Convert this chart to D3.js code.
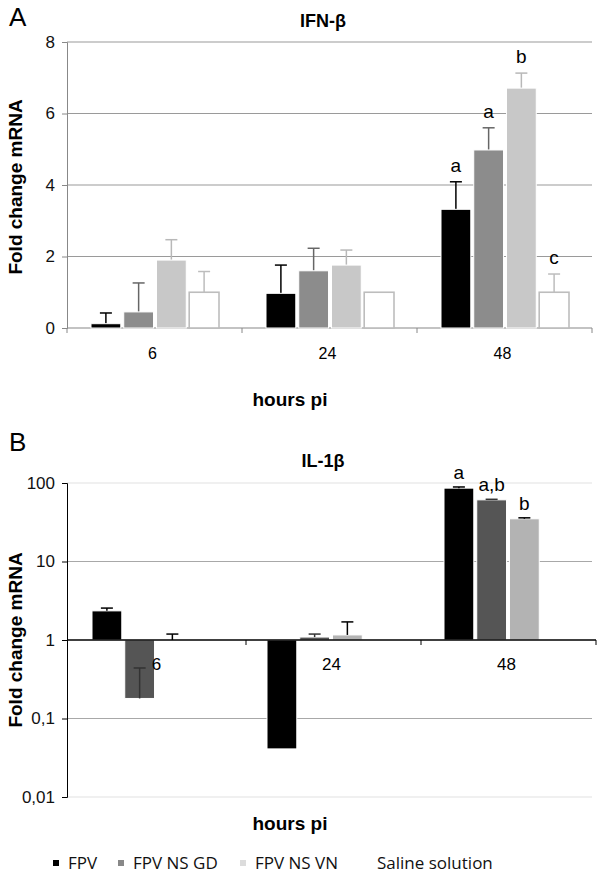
<!DOCTYPE html>
<html><head><meta charset="utf-8">
<script src="https://cdn.jsdelivr.net/npm/d3@7"></script>
<style>body{margin:0;background:#fff}svg{display:block}</style>
</head><body>
<svg id="c" width="600" height="882"></svg>
<script>
const categories = ["6", "24", "48"];
const seriesA = ["FPV", "FPV NS GD", "FPV NS VN", "Saline solution"];
const seriesB = ["FPV", "FPV NS GD", "FPV NS VN"];
// Panel A IFN-β values [6,24,48] per series
const ifnFPV = [0.12, 0.97, 3.32];
const ifnGD = [0.45, 1.6, 4.98];
const ifnVN = [1.9, 1.76, 6.71];
const ifnSal = [1.0, 1.0, 1.0];
// upper error bar ends
const ifnFPVErr = [0.42, 1.76, 4.09];
const ifnGDErr = [1.26, 2.23, 5.6];
const ifnVNErr = [2.47, 2.18, 7.13];
const ifnSalErr = [1.58, 1.0, 1.51];
const ifnLetters = [["", "", "a"], ["", "", "a"], ["", "", "b"], ["", "", "c"]];
// Panel B IL-1β values
const ilFPV = [2.35, 0.041, 86];
const ilGD = [0.18, 1.09, 61];
const ilVN = [1.0, 1.16, 35];
const ilFPVErr = [2.55, 0.041, 89];
const ilGDErr = [0.44, 1.19, 62];
const ilVNErr = [1.19, 1.7, 36];
const ilLetters = [["", "", "a"], ["", "", "a,b"], ["", "", "b"]];
const ticksA = [0, 2, 4, 6, 8];
const ticksB = [0.01, 0.1, 1, 10, 100];
const tickLabelsB = ["0,01", "0,1", "1", "10", "100"];

const svg = d3.select("#c");
const F = "'Liberation Sans', Arial, sans-serif";
const colA = ["#000000", "#8c8c8c", "#c8c8c8", "#ffffff"];
const errColA = ["#000000", "#666666", "#b8b8b8", "#bdbdbd"];
const colB = ["#000000", "#555555", "#b3b3b3"];
const errColB = ["#000000", "#333333", "#000000"];

const x0 = d3.scaleBand().domain(categories).range([67, 592]);
const x1 = d3.scaleBand().domain(seriesA).range([24, 152]).paddingInner(0.09);

// ---------- Panel A ----------
const yA = d3.scaleLinear().domain([0, 8]).range([328, 42]);
const gA = svg.append("g");
gA.selectAll("line.grid").data(ticksA.filter(d => d > 0)).join("line")
  .attr("x1", 67).attr("x2", 592).attr("y1", d => yA(d)).attr("y2", d => yA(d))
  .attr("stroke", "#9a9a9a").attr("stroke-width", 1.2);
const axA = gA.append("g").attr("transform", "translate(67,0)")
  .call(d3.axisLeft(yA).tickValues(ticksA).tickSize(5).tickPadding(7));
axA.select(".domain").attr("stroke", "#888");
axA.selectAll(".tick line").attr("stroke", "#888");
axA.selectAll("text").attr("font-family", F).attr("font-size", 17).attr("fill", "#111");
const xaA = gA.append("g").attr("transform", `translate(0,${yA(0)})`);
xaA.append("line").attr("x1", 67).attr("x2", 592).attr("stroke", "#888").attr("stroke-width", 1.2);
xaA.selectAll("line.t").data([67, ...categories.map(c => x0(c) + x0.bandwidth())]).join("line")
  .attr("x1", d => d).attr("x2", d => d).attr("y1", 0).attr("y2", 5).attr("stroke", "#888");
xaA.selectAll("text").data(categories).join("text")
  .attr("x", d => x0(d) + x0.bandwidth() / 2 - 2).attr("y", 31).attr("text-anchor", "middle")
  .attr("font-family", F).attr("font-size", 16).text(d => d);

const dataA = [ifnFPV, ifnGD, ifnVN, ifnSal];
const errA = [ifnFPVErr, ifnGDErr, ifnVNErr, ifnSalErr];
seriesA.forEach((s, si) => {
  categories.forEach((c, ci) => {
    const bx = x0(c) + x1(s), bw = x1.bandwidth();
    const v = dataA[si][ci], e = errA[si][ci];
    const cx = bx + bw / 2;
    if (e > v) {
      gA.append("line").attr("x1", cx).attr("x2", cx).attr("y1", yA(v)).attr("y2", yA(e))
        .attr("stroke", errColA[si]).attr("stroke-width", 1.5);
      gA.append("line").attr("x1", cx - 6).attr("x2", cx + 6).attr("y1", yA(e)).attr("y2", yA(e))
        .attr("stroke", errColA[si]).attr("stroke-width", 1.5);
    }
    gA.append("rect").attr("x", bx).attr("width", bw).attr("y", yA(v)).attr("height", yA(0) - yA(v))
      .attr("fill", colA[si]).attr("stroke", si === 3 ? "#bdbdbd" : "#fff").attr("stroke-width", si === 3 ? 1.6 : 1);
    const L = ifnLetters[si][ci];
    if (L) {
      gA.append("text").attr("x", cx).attr("y", yA(Math.max(v, e)) - 10).attr("text-anchor", "middle")
        .attr("font-family", F).attr("font-size", 19).text(L);
    }
  });
});
svg.append("text").attr("x", 9).attr("y", 26).attr("font-family", F).attr("font-size", 26).text("A");
svg.append("text").attr("x", 323).attr("y", 27).attr("text-anchor", "middle").attr("font-family", F)
  .attr("font-size", 18).attr("font-weight", "bold").text("IFN-β");
svg.append("text").attr("transform", "translate(22,187) rotate(-90)").attr("text-anchor", "middle")
  .attr("font-family", F).attr("font-size", 19).attr("font-weight", "bold").text("Fold change mRNA");
svg.append("text").attr("x", 290).attr("y", 406).attr("text-anchor", "middle").attr("font-family", F)
  .attr("font-size", 19).attr("font-weight", "bold").text("hours pi");

// ---------- Panel B ----------
const yB = d3.scaleLog().domain([0.01, 100]).range([797, 483]);
const gB = svg.append("g");
gB.selectAll("line.grid").data(ticksB.filter(d => d !== 1)).join("line")
  .attr("x1", 67).attr("x2", 592).attr("y1", d => yB(d)).attr("y2", d => yB(d))
  .attr("stroke", d => (d === 100 || d === 0.01) ? "#e2e2e2" : "#a8a8a8").attr("stroke-width", 1.2);
const axB = gB.append("g").attr("transform", "translate(67,0)")
  .call(d3.axisLeft(yB).tickValues(ticksB).tickFormat((d, i) => tickLabelsB[i]).tickSize(5).tickPadding(7));
axB.select(".domain").attr("stroke", "#000");
axB.selectAll(".tick line").attr("stroke", "#000");
axB.selectAll("text").attr("font-family", F).attr("font-size", 17).attr("fill", "#111");

const dataB = [ilFPV, ilGD, ilVN];
const errB = [ilFPVErr, ilGDErr, ilVNErr];
seriesB.forEach((s, si) => {
  categories.forEach((c, ci) => {
    const bx = x0(c) + x1(s) + (ci === 2 ? 3 : 1), bw = x1.bandwidth();
    const v = dataB[si][ci], e = errB[si][ci];
    const cx = bx + bw / 2;
    const y1 = yB(1), yv = yB(v);
    gB.append("rect").attr("x", bx).attr("width", bw).attr("y", Math.min(y1, yv)).attr("height", Math.abs(y1 - yv))
      .attr("fill", colB[si]).attr("stroke", "#fff").attr("stroke-width", 1);
    if (e > v) {
      gB.append("line").attr("x1", cx).attr("x2", cx).attr("y1", yv).attr("y2", yB(e))
        .attr("stroke", errColB[si]).attr("stroke-width", 1.5);
      gB.append("line").attr("x1", cx - 6).attr("x2", cx + 6).attr("y1", yB(e)).attr("y2", yB(e))
        .attr("stroke", errColB[si]).attr("stroke-width", 1.5);
    }
    const L = ilLetters[si][ci];
    if (L) {
      gB.append("text").attr("x", cx).attr("y", yB(e) - 8).attr("text-anchor", "middle")
        .attr("font-family", F).attr("font-size", 19).text(L);
    }
  });
});
const xaB = gB.append("g").attr("transform", `translate(0,${yB(1)})`);
xaB.append("line").attr("x1", 67).attr("x2", 596).attr("stroke", "#000").attr("stroke-width", 1.3);
xaB.selectAll("line.t").data(categories.map(c => x0(c) + x0.bandwidth() + 4)).join("line")
  .attr("x1", d => d).attr("x2", d => d).attr("y1", 0).attr("y2", 5).attr("stroke", "#000");
xaB.selectAll("text").data(categories).join("text")
  .attr("x", d => x0(d) + x0.bandwidth() / 2 + 2).attr("y", 30).attr("text-anchor", "middle")
  .attr("font-family", F).attr("font-size", 17).text(d => d);

svg.append("text").attr("x", 9).attr("y", 451).attr("font-family", F).attr("font-size", 26).text("B");
svg.append("text").attr("x", 323).attr("y", 467).attr("text-anchor", "middle").attr("font-family", F)
  .attr("font-size", 18).attr("font-weight", "bold").text("IL-1β");
svg.append("text").attr("transform", "translate(22,640) rotate(-90)").attr("text-anchor", "middle")
  .attr("font-family", F).attr("font-size", 19).attr("font-weight", "bold").text("Fold change mRNA");
svg.append("text").attr("x", 290).attr("y", 830).attr("text-anchor", "middle").attr("font-family", F)
  .attr("font-size", 19).attr("font-weight", "bold").text("hours pi");

// ---------- Legend ----------
const legX = [53, 118, 240, 362];
const legCol = ["#000", "#888", "#dcdcdc", "#fff"];
const LF = "'Open Sans', 'Noto Sans', sans-serif";
seriesA.forEach((s, i) => {
  svg.append("rect").attr("x", legX[i]).attr("y", 860).attr("width", 6).attr("height", 6).attr("fill", legCol[i]);
  svg.append("text").attr("x", legX[i] + 15).attr("y", 869).attr("font-family", LF).attr("font-size", 17)
    .attr("fill", "#111").text(s);
});
</script>
</body></html>
